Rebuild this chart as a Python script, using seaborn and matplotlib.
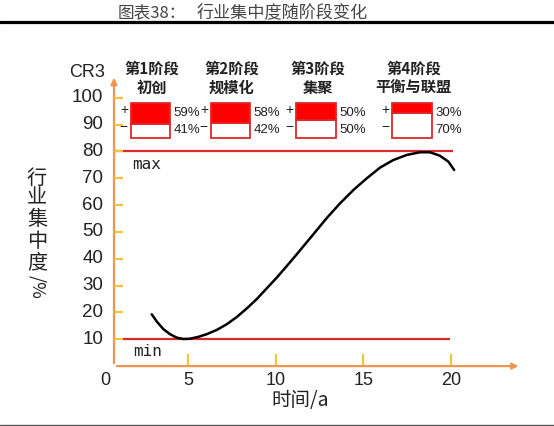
import matplotlib
matplotlib.use("Agg")
import matplotlib.pyplot as plt
from matplotlib.lines import Line2D
import seaborn as sns

sns.set_theme(style="white")
plt.rcParams["font.family"] = ["Liberation Sans", "Noto Sans CJK SC", "DejaVu Sans"]
CJK = ["Noto Sans CJK SC", "DejaVu Sans"]

# curve (time in a, CR3 in %)
time_a = [2.93, 3.22, 3.59, 3.97, 4.36, 4.73, 5.11, 5.59, 6.07, 6.64, 7.21, 7.78,
          8.35, 8.92, 9.49, 10.06, 10.63, 11.20, 11.86, 12.14, 12.91, 13.67, 14.42,
          15.19, 15.95, 16.70, 17.47, 18.22, 18.79, 19.36, 19.84, 20.17]
cr3 = [19.3, 16.6, 13.8, 11.9, 10.6, 10.1, 10.2, 10.9, 11.9, 13.5, 15.6, 18.3,
       21.5, 25.0, 29.0, 33.0, 37.3, 41.7, 46.9, 49.1, 55.2, 60.7, 65.6,
       70.0, 74.0, 76.8, 78.7, 79.7, 79.7, 78.4, 76.2, 73.1]

stage_titles = ["第1阶段", "第2阶段", "第3阶段", "第4阶段"]
stage_names = ["初创", "规模化", "集聚", "平衡与联盟"]
plus_share = [59, 58, 50, 30]
minus_share = [41, 42, 50, 70]
stage_x = [2.85, 7.41, 12.30, 17.77]

cr_max, cr_min = 80, 10
yticks = [10, 20, 30, 40, 50, 60, 70, 80, 90, 100]
xticks = [0, 5, 10, 15, 20]

ORANGE = "#EE9650"
GOLD = "#F6C23A"
RED = "#DD2A2A"

fig = plt.figure(figsize=(5.54, 4.26), dpi=100)
ax = fig.add_axes([0, 0, 1, 1])
ax.set_xlim(-5.718, 25.86)
ax.set_ylim(-22.33, 136.45)
ax.axis("off")

# axes with arrows
ax.annotate("", xy=(0.78, 108.5), xytext=(0.78, 0),
            arrowprops=dict(arrowstyle="-|>", color=ORANGE, lw=1.6, mutation_scale=9))
ax.annotate("", xy=(24.0, 0), xytext=(0.78, 0),
            arrowprops=dict(arrowstyle="-|>", color=ORANGE, lw=1.6, mutation_scale=9))
ax.hlines(yticks, 0.78, 1.29, color=GOLD, lw=1.6, zorder=3)
ax.vlines(xticks[1:], 0, 4.5, color=GOLD, lw=1.6)

for v in yticks:
    ax.text(0.16, v, str(v), ha="right", va="center", fontsize=13.5, color="#222")
for v in xticks:
    ax.text(v + (0.27 if v == 0 else 0), -5.5, str(v), ha="center", va="center",
            fontsize=13, color="#222")
ax.text(-0.73, 109.4, "CR3", ha="center", va="center", fontsize=13, color="#222")

# max / min lines
ax.hlines(cr_max, 0.78, 20.12, color=RED, lw=1.6, zorder=2)
ax.hlines(cr_min, 1.29, 19.94, color=RED, lw=1.6, zorder=2)
ax.text(1.79, 75, "max", ha="left", va="center", fontsize=11.5,
        family="DejaVu Sans Mono", color="#222")
ax.text(1.87, 5.4, "min", ha="left", va="center", fontsize=11.5,
        family="DejaVu Sans Mono", color="#222")

sns.lineplot(x=time_a, y=cr3, ax=ax, sort=False, estimator=None,
             color="black", lw=1.8, zorder=4)

# stage boxes
box_bottom, box_h, box_w = 84.9, 13.3, 2.25
minus_h = [m * box_h / 100 for m in minus_share]
plus_h = [p * box_h / 100 for p in plus_share]
ax.bar(stage_x, minus_h, bottom=box_bottom, width=box_w, color="white",
       edgecolor=RED, lw=1.3)
ax.bar(stage_x, plus_h, bottom=[box_bottom + m for m in minus_h], width=box_w,
       color="#FF0000", edgecolor=RED, lw=1.3)

for sx, t, n, p, m in zip(stage_x, stage_titles, stage_names, plus_share, minus_share):
    ax.text(sx + 0.08, 110.8, t, ha="center", va="center", fontsize=11,
            fontweight="bold", family=CJK, color="#222")
    ax.text(sx + 0.08, 103.7, n, ha="center", va="center", fontsize=11,
            fontweight="bold", family=CJK, color="#222")
    ax.text(sx - box_w / 2 - 0.38, 95.3, "+", ha="center", va="center",
            fontsize=10, color="#222")
    ax.text(sx - box_w / 2 - 0.38, 89.3, "−", ha="center", va="center",
            fontsize=10, color="#222")
    ax.text(sx + box_w / 2 + 0.2, 94.3, f"{p}%", ha="left", va="center",
            fontsize=9.5, color="#222")
    ax.text(sx + box_w / 2 + 0.2, 88.0, f"{m}%", ha="left", va="center",
            fontsize=9.5, color="#222")

# axis titles
ylab_chars = ["行", "业", "集", "中", "度"]
ylab_y = [69.9, 62.5, 54.5, 46.6, 38.6]
for ch, yy in zip(ylab_chars, ylab_y):
    ax.text(-3.61, yy, ch, ha="center", va="center", fontsize=14.5, family=CJK, color="#222")
ax.text(-3.61, 29.5, "/%", ha="center", va="center", fontsize=13, rotation=-90,
        family=CJK, color="#222")
ax.text(11.4, -12.9, "时间/a", ha="center", va="center", fontsize=14,
        family=CJK, color="#222")

# page header
fig.text(118 / 554, 1 - 12.3 / 426, "图表38：", ha="left", va="center",
         fontsize=12, family=CJK, color="#444")
fig.text(197 / 554, 1 - 12.3 / 426, "行业集中度随阶段变化", ha="left", va="center",
         fontsize=12.3, family=CJK, color="#444")
fig.add_artist(Line2D([0, 1], [1 - 21.7 / 426] * 2, color="black", lw=2.3))
fig.add_artist(Line2D([0, 1], [0.6 / 426] * 2, color="#555", lw=1))

plt.savefig("out.png", dpi=100)
plt.close()
